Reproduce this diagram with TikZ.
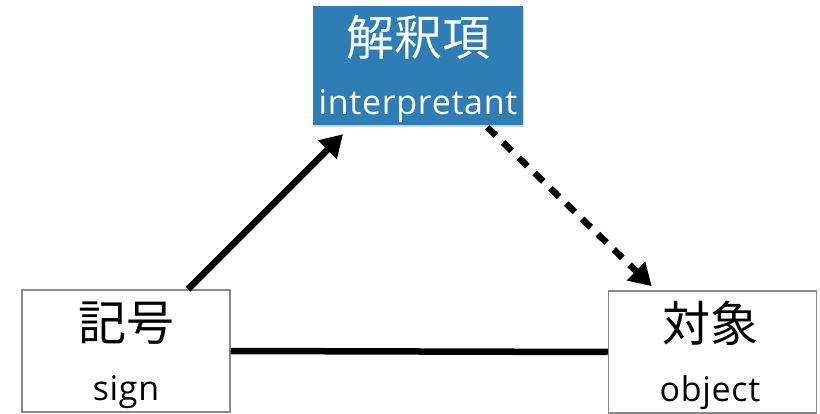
\documentclass[tikz,border=0pt]{standalone}
\usepackage{fontspec}
\newfontfamily\cjk{Noto Sans CJK JP}
\newfontfamily\lat[LetterSpace=2]{Open Sans}
\usetikzlibrary{arrows.meta,shadows}
\definecolor{ibox}{HTML}{2E7DB4}
\definecolor{bgray}{HTML}{8A8A8A}
\tikzset{
  plainbox/.style={draw=bgray, line width=1.5pt, fill=white, minimum width=208pt, minimum height=122pt, inner sep=0pt},
  bluebox/.style={fill=ibox, minimum width=210pt, minimum height=119pt, inner sep=0pt,
    drop shadow={opacity=0.35, shadow xshift=0.5pt, shadow yshift=-2pt}},
  bigtext/.style={font=\cjk\fontsize{48}{52}\selectfont, inner sep=0pt},
  smalltext/.style={font=\lat\fontsize{34}{38}\selectfont, inner sep=0pt, anchor=base},
  conn/.style={line width=6.5pt, -{Triangle[length=22pt,width=25pt]}},
  conndash/.style={conn, dash pattern=on 12pt off 10pt}
}
\begin{document}
\begin{tikzpicture}[x=1pt,y=-1pt]
\useasboundingbox (0,0) rectangle (820,414);
\node[bluebox] (interp) at (418,65.5) {};
\node[plainbox] (sign) at (126,351) {};
\node[plainbox] (object) at (712.5,352) {};
\node[bigtext, text=white] (interpj) at (418,37) {解釈項};
\node[smalltext, text=white] (interpe) at (418,115) {interpretant};
\node[bigtext] (signj) at (126,323) {記号};
\node[smalltext] (signe) at (126,400) {sign};
\node[bigtext] (objectj) at (710,323) {対象};
\node[smalltext] (objecte) at (710,401) {object};
\draw[line width=6.5pt] (sign.east) -- (object.west);
\draw[conn] ([xshift=62pt]sign.north) -- ([xshift=-75pt,yshift=-9pt]interp.south);
\draw[conndash] ([xshift=-36pt,yshift=-2pt]interp.south east) -- ([xshift=44pt,yshift=4pt]object.north west);
\end{tikzpicture}
\end{document}
